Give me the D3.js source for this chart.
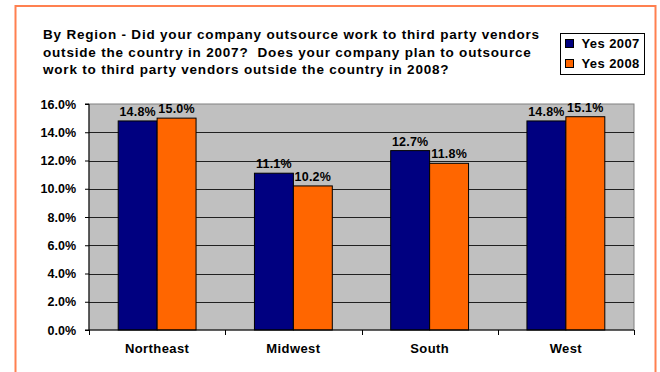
<!DOCTYPE html>
<html>
<head>
<meta charset="utf-8">
<script src="https://cdn.jsdelivr.net/npm/d3@7"></script>
<style>
  html, body { margin: 0; padding: 0; background: #fff; }
  svg { display: block; font-family: "Liberation Sans", Arial, sans-serif; font-weight: bold; }
  .title { white-space: pre; }
</style>
</head>
<body>
<svg id="chart" width="660" height="372"></svg>
<script>
// Survey results by region: share of companies outsourcing abroad
const regions = ["Northeast", "Midwest", "South", "West"];
const seriesNames = ["Yes 2007", "Yes 2008"];
const yes2007 = [14.8, 11.1, 12.7, 14.8];
const yes2008 = [15.0, 10.2, 11.8, 15.1];
const yTicks = [0, 2, 4, 6, 8, 10, 12, 14, 16];
const seriesColors = ["#000080", "#FF6600"];
const titleLines = [
  "By Region - Did your company outsource work to third party vendors",
  "outside the country in 2007?  Does your company plan to outsource",
  "work to third party vendors outside the country in 2008?"
];

const svg = d3.select("#chart");

// Outer frame
svg.append("rect")
  .attr("x", 15.5).attr("y", 6).attr("width", 640).attr("height", 380)
  .attr("fill", "#fff").attr("stroke", "#FF8050").attr("stroke-width", 2);

// Title
const title = svg.append("text").attr("class", "title").attr("x", 43)
  .attr("font-size", 13.5).attr("letter-spacing", 0.8).attr("fill", "#000");
titleLines.forEach((t, i) => {
  title.append("tspan").attr("x", 43).attr("y", 39 + i * 17.5).text(t);
});

// Plot area
const plot = { left: 89, right: 634, top: 104, bottom: 330 };
const x0 = d3.scaleBand().domain(regions).range([plot.left, plot.right]).paddingInner(0).paddingOuter(0);
const groupW = x0.bandwidth() * 2 / 3.5;
const x1 = d3.scaleBand().domain(seriesNames).range([0, groupW]).padding(0);
const y = d3.scaleLinear().domain([0, 16]).range([plot.bottom, plot.top]);

svg.append("rect")
  .attr("x", plot.left).attr("y", plot.top)
  .attr("width", plot.right - plot.left).attr("height", plot.bottom - plot.top)
  .attr("fill", "#C0C0C0").attr("stroke", "#808080").attr("stroke-width", 1);

// Horizontal gridlines
svg.append("g")
  .selectAll("line")
  .data(yTicks.filter(v => v > 0 && v < 16))
  .join("line")
  .attr("x1", plot.left).attr("x2", plot.right)
  .attr("y1", d => Math.round(y(d)) + 0.5).attr("y2", d => Math.round(y(d)) + 0.5)
  .attr("stroke", "#202020").attr("stroke-width", 1);

// Bars
const data = regions.map((r, i) => ({ region: r, values: [yes2007[i], yes2008[i]] }));
const groups = svg.append("g").selectAll("g")
  .data(data)
  .join("g")
  .attr("transform", d => `translate(${x0(d.region) + (x0.bandwidth() - groupW) / 2},0)`);

groups.selectAll("rect")
  .data(d => d.values.map((v, j) => ({ key: seriesNames[j], v, j })))
  .join("rect")
  .attr("x", d => x1(d.key))
  .attr("y", d => y(d.v))
  .attr("width", x1.bandwidth())
  .attr("height", d => y(0) - y(d.v))
  .attr("fill", d => seriesColors[d.j])
  .attr("stroke", "#000").attr("stroke-width", 1);

groups.selectAll("text")
  .data(d => d.values.map((v, j) => ({ key: seriesNames[j], v, j })))
  .join("text")
  .attr("x", d => x1(d.key) + x1.bandwidth() / 2)
  .attr("y", d => y(d.v) - 5)
  .attr("text-anchor", "middle")
  .attr("font-size", 12.5)
  .attr("letter-spacing", 0.2)
  .attr("fill", "#000")
  .text(d => d.v.toFixed(1) + "%");

// Y axis
const yAxis = d3.axisLeft(y).tickValues(yTicks).tickSize(4).tickPadding(9)
  .tickFormat(d => d.toFixed(1) + "%");
const yg = svg.append("g").attr("transform", `translate(${plot.left},0)`).call(yAxis);
yg.select(".domain").attr("stroke", "#000").attr("d", `M-4,${plot.top}H0V${plot.bottom}H-4`);
yg.selectAll(".tick line").attr("stroke", "#000");
yg.selectAll(".tick text").attr("font-size", 12.5).attr("font-family", "Liberation Sans, Arial, sans-serif")
  .attr("font-weight", "bold").attr("fill", "#000");

// X axis
const xAxis = d3.axisBottom(x0).tickSize(0).tickPadding(14);
const xg = svg.append("g").attr("transform", `translate(0,${plot.bottom})`).call(xAxis);
xg.select(".domain").attr("stroke", "#000").attr("d", `M${plot.left},0H${plot.right}`);
xg.selectAll(".tick text").attr("font-size", 13).attr("letter-spacing", 0.4)
  .attr("font-family", "Liberation Sans, Arial, sans-serif")
  .attr("font-weight", "bold").attr("fill", "#000");
// Category separators
svg.append("g").selectAll("line")
  .data(regions.map(r => x0(r)).concat([plot.right]))
  .join("line")
  .attr("x1", d => Math.round(d) + 0.5).attr("x2", d => Math.round(d) + 0.5)
  .attr("y1", plot.bottom).attr("y2", plot.bottom + 5)
  .attr("stroke", "#000");

// Legend
const legend = svg.append("g").attr("transform", "translate(560.5,33.5)");
legend.append("rect").attr("width", 84).attr("height", 41)
  .attr("fill", "#fff").attr("stroke", "#000").attr("stroke-width", 1);
seriesNames.forEach((name, i) => {
  legend.append("rect").attr("x", 5).attr("y", 6 + i * 20).attr("width", 8).attr("height", 8)
    .attr("fill", seriesColors[i]).attr("stroke", "#000");
  legend.append("text").attr("x", 21).attr("y", 14.5 + i * 20).attr("font-size", 13)
    .attr("letter-spacing", 0.4).attr("fill", "#000").text(name);
});
</script>
</body>
</html>
